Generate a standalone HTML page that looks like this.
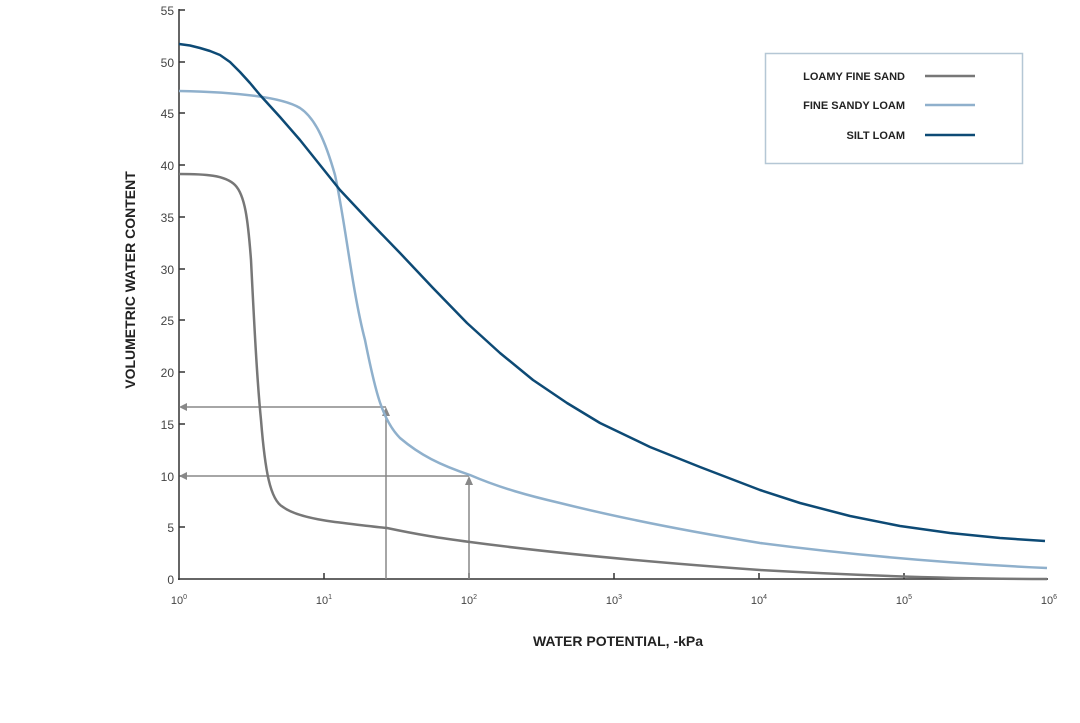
<!DOCTYPE html><html><head><style>body{margin:0;background:#fff}svg{display:block;font-family:"Liberation Sans",sans-serif}</style></head><body>
<svg width="1080" height="723" viewBox="0 0 1080 723">
<g font-size="12" fill="#444" text-anchor="end">
<text x="174" y="15">55</text><text x="174" y="67">50</text><text x="174" y="118">45</text><text x="174" y="170">40</text><text x="174" y="222">35</text><text x="174" y="274">30</text><text x="174" y="325">25</text><text x="174" y="377">20</text><text x="174" y="429">15</text><text x="174" y="481">10</text><text x="174" y="532">5</text><text x="174" y="584">0</text>
</g>
<g stroke="#333" stroke-width="1.5">
<line x1="179" y1="9" x2="179" y2="580"/><line x1="178" y1="579" x2="1048" y2="579"/>
<path d="M179 10h6M179 62h6M179 113h6M179 165h6M179 217h6M179 269h6M179 320h6M179 372h6M179 424h6M179 476h6M179 527h6M324 579v-6M469 579v-6M614 579v-6M759 579v-6M904 579v-6"/>
</g>
<g font-size="11" fill="#444" text-anchor="middle">
<text x="179" y="604">10<tspan font-size="7" dy="-5">0</tspan></text><text x="324" y="604">10<tspan font-size="7" dy="-5">1</tspan></text><text x="469" y="604">10<tspan font-size="7" dy="-5">2</tspan></text><text x="614" y="604">10<tspan font-size="7" dy="-5">3</tspan></text><text x="759" y="604">10<tspan font-size="7" dy="-5">4</tspan></text><text x="904" y="604">10<tspan font-size="7" dy="-5">5</tspan></text><text x="1049" y="604">10<tspan font-size="7" dy="-5">6</tspan></text>
</g>
<text x="618" y="646" font-size="14" font-weight="bold" fill="#222" text-anchor="middle">WATER POTENTIAL, -kPa</text>
<text transform="translate(135,280) rotate(-90)" font-size="14" font-weight="bold" fill="#222" text-anchor="middle">VOLUMETRIC WATER CONTENT</text>
<g stroke="#888" stroke-width="1.5" fill="none">
<path d="M386 407H181M469 476H181M386 579V412M469 579V481"/>
</g>
<g fill="#888"><path d="M179 407l8-4v8zM179 476l8-4v8zM386 407l-4 9h8zM469 476l-4 9h8z"/></g>
<path fill="none" stroke="#777" stroke-width="2.5" d="M179 174C205 174 225 175 235 185C245 195 248 220 251 260C254 320 257 380 261 420C265 470 270 500 283 507C295 516 320 520 335 522C360 525 375 527 387 528C420 535 440 538 470 542C530 550 620 560 760 570C850 575 950 579 1047 579"/>
<path fill="none" stroke="#8fb0cc" stroke-width="2.5" d="M179 91C230 92 280 96 300 108C315 118 325 140 335 175C345 220 352 290 365 340C375 390 382 420 400 438C420 455 440 465 470 475C500 488 530 496 560 503C620 518 680 530 760 543C860 556 960 564 1047 568"/>
<polyline fill="none" stroke="#0d4a75" stroke-width="2.5" stroke-linejoin="round" points="179,44 190,45.5 200,48 210,51 220,55 230,62 240,72 250,83 260,95 280,117 300,140 320,165 340,190 370,222 400,253 433,288 467,323 500,353 533,380 567,403 600,423 650,447 700,467 760,490 800,503 850,516 900,526 950,533 1000,538 1045,541"/>
<rect x="765.5" y="53.5" width="257" height="110" fill="#fff" stroke="#b5c7d5" stroke-width="1.5"/>
<g font-size="11" font-weight="bold" fill="#222" text-anchor="end">
<text x="905" y="80">LOAMY FINE SAND</text><text x="905" y="109">FINE SANDY LOAM</text><text x="905" y="139">SILT LOAM</text>
</g>
<path d="M925 76h50" stroke="#777" stroke-width="2.5"/><path d="M925 105h50" stroke="#8fb0cc" stroke-width="2.5"/><path d="M925 135h50" stroke="#0d4a75" stroke-width="2.5"/>
</svg></body></html>
